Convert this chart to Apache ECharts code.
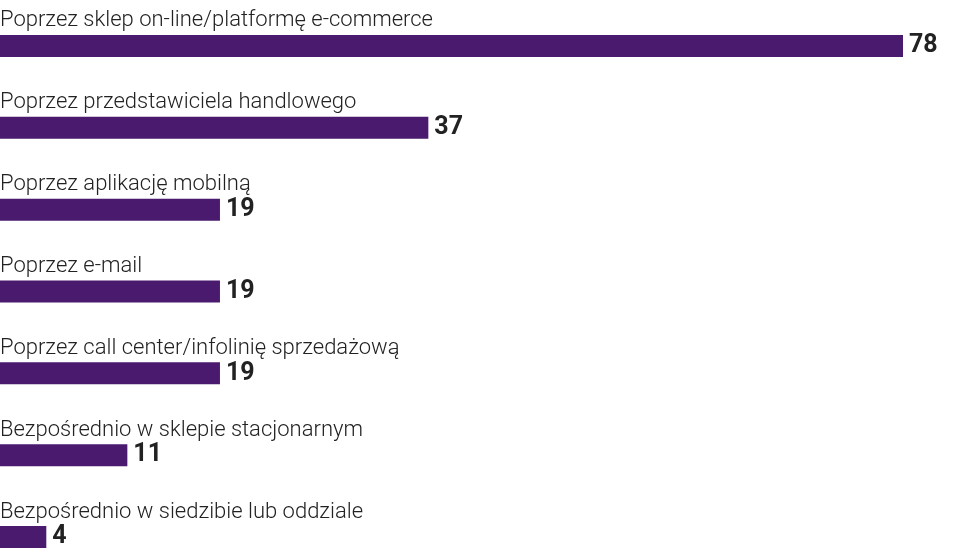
<!DOCTYPE html>
<html lang="pl">
<head>
<meta charset="utf-8">
<script src="https://cdn.jsdelivr.net/npm/echarts@6/dist/echarts.min.js"></script>
<title>kanaly</title>
</head>
<body>
<style>
    html, body, #main { width: 100%; height: 100%; margin: 0; background: #fff; }
</style>
<div id="main"></div>
<script>
    var categories = [
        'Poprzez sklep on-line/platformę e-commerce',
        'Poprzez przedstawiciela handlowego',
        'Poprzez aplikację mobilną',
        'Poprzez e-mail',
        'Poprzez call center/infolinię sprzedażową',
        'Bezpośrednio w sklepie stacjonarnym',
        'Bezpośrednio w siedzibie lub oddziale'
    ];
    var values = [78, 37, 19, 19, 19, 11, 4];

    var chart = echarts.init(document.getElementById('main'));
    var option = {
        animation: false,
        grid: { left: 0, right: 57, top: 5, bottom: -29, outerBoundsMode: 'none', containLabel: false },
        xAxis: { type: 'value', min: 0, max: 78, show: false },
        yAxis: {
            type: 'category',
            inverse: true,
            data: categories,
            axisLine: { show: false },
            axisTick: { show: false },
            axisLabel: {
                inside: true,
                align: 'left',
                verticalAlign: 'bottom',
                padding: [0, 0, 14, 0],
                margin: 0,
                fontSize: 22,
                fontWeight: 300,
                fontFamily: 'Roboto',
                color: '#222'
            }
        },
        series: [{
            type: 'bar',
            data: values,
            barWidth: 22,
            itemStyle: { color: '#4a1a6e' },
            label: {
                show: true,
                position: 'right',
                distance: 6,
                fontSize: 25,
                fontWeight: 'bold',
                fontFamily: 'Roboto',
                color: '#222'
            }
        }]
    };
    chart.setOption(option);
    window.onresize = chart.resize;
</script>
</body>
</html>
